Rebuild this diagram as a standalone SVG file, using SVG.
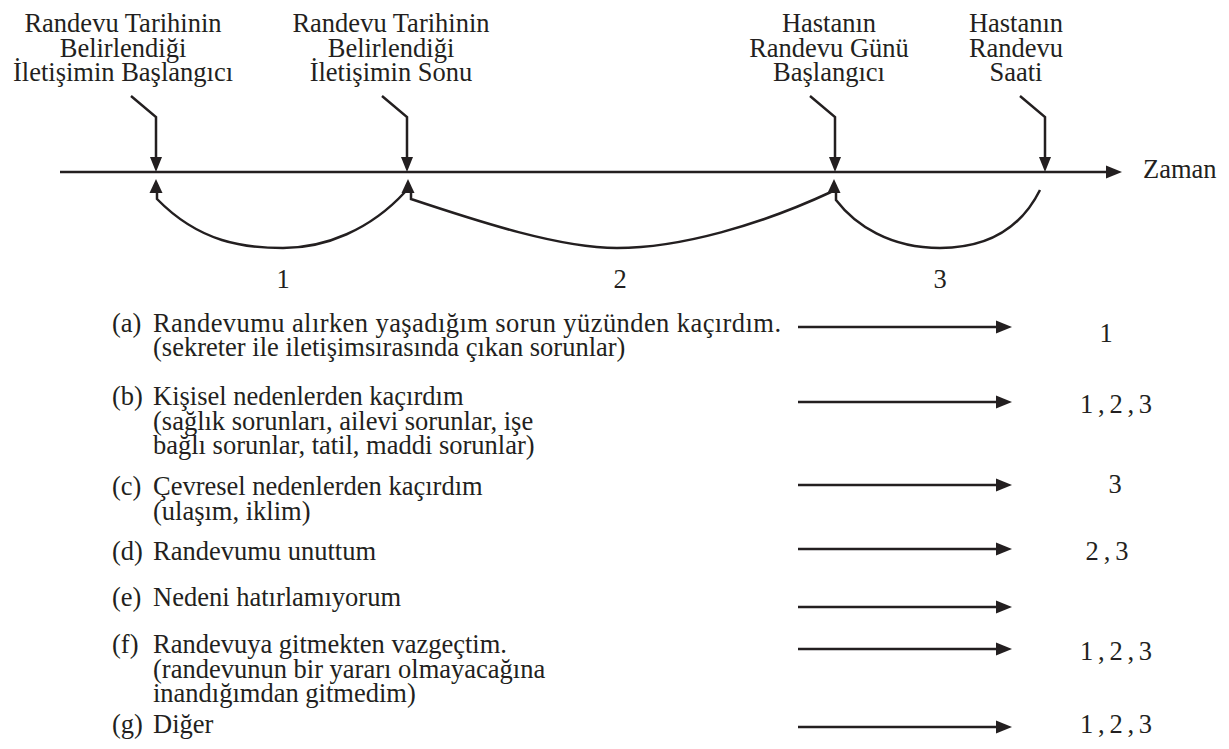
<svg xmlns="http://www.w3.org/2000/svg" width="1229" height="749" viewBox="0 0 1229 749" font-family="'Liberation Serif', Tinos, 'Times New Roman', 'DejaVu Serif', serif">
<style>
  text { font-family: 'Liberation Serif', Tinos, 'Times New Roman', 'DejaVu Serif', serif; fill: #231f20; font-size: 26.5px; }
  .lbl { text-anchor: middle; }
  .num { text-anchor: middle; }
  .ln { fill: none; stroke: #231f20; stroke-width: 2.5; }
  .hd { fill: #231f20; stroke: none; }
</style>
<defs>
  <path id="downHead" d="M-6,-15 L6,-15 L0,0 Z"/>
  <path id="upHead" d="M-6.5,14 L6.5,14 L0,0 Z"/>
  <path id="rightHead" d="M-16,-6.5 L0,0 L-16,6.5 Z"/>
</defs>

<g id="timeline">
  <path class="ln" d="M60,172 L1108,172"/>
  <use href="#rightHead" class="hd" x="1122" y="172"/>
  <text x="1143" y="178">Zaman</text>
</g>

<g id="node-start">
  <text class="lbl" x="123" y="32">Randevu Tarihinin</text>
  <text class="lbl" x="123" y="57">Belirlendiği</text>
  <text class="lbl" x="123" y="81">İletişimin Başlangıcı</text>
</g>
<g id="node-end">
  <text class="lbl" x="391" y="32">Randevu Tarihinin</text>
  <text class="lbl" x="391" y="57">Belirlendiği</text>
  <text class="lbl" x="391" y="81">İletişimin Sonu</text>
</g>
<g id="node-day">
  <text class="lbl" x="829" y="32">Hastanın</text>
  <text class="lbl" x="829" y="57">Randevu Günü</text>
  <text class="lbl" x="829" y="81">Başlangıcı</text>
</g>
<g id="node-hour">
  <text class="lbl" x="1016" y="32">Hastanın</text>
  <text class="lbl" x="1016" y="57">Randevu</text>
  <text class="lbl" x="1016" y="81">Saati</text>
</g>

<g id="connectors">
  <path class="ln" d="M131,96 L156,117 L156,159"/>
  <use href="#downHead" class="hd" x="156" y="172"/>
  <path class="ln" d="M382,96 L407,117 L407,159"/>
  <use href="#downHead" class="hd" x="407" y="172"/>
  <path class="ln" d="M810,96 L835,117 L835,159"/>
  <use href="#downHead" class="hd" x="835" y="172"/>
  <path class="ln" d="M1020,96 L1045,117 L1045,159"/>
  <use href="#downHead" class="hd" x="1045" y="172"/>

  <path class="ln" d="M157,192 L157,199 C200,243 245,248 283,248 C325,248 370,230 405,192"/>
  <use href="#upHead" class="hd" x="156" y="179"/>
  <use href="#upHead" class="hd" x="408" y="179"/>
  <path class="ln" d="M411,192 L411,199 C480,222 560,248 617,248 C680,248 760,225 831,192"/>
  <use href="#upHead" class="hd" x="834" y="179"/>
  <path class="ln" d="M1040,190 C1020,230 985,248 940,248 C890,248 855,225 836,200 L836,192"/>

  <path class="ln" d="M798,327 L998,327"/>
  <use href="#rightHead" class="hd" x="1012" y="327"/>
  <path class="ln" d="M798,402 L998,402"/>
  <use href="#rightHead" class="hd" x="1012" y="402"/>
  <path class="ln" d="M798,485 L998,485"/>
  <use href="#rightHead" class="hd" x="1012" y="485"/>
  <path class="ln" d="M798,549 L998,549"/>
  <use href="#rightHead" class="hd" x="1012" y="549"/>
  <path class="ln" d="M798,607 L998,607"/>
  <use href="#rightHead" class="hd" x="1012" y="607"/>
  <path class="ln" d="M798,649 L998,649"/>
  <use href="#rightHead" class="hd" x="1012" y="649"/>
  <path class="ln" d="M798,727 L998,727"/>
  <use href="#rightHead" class="hd" x="1012" y="727"/>
</g>

<g id="periods">
  <text class="num" x="283" y="288">1</text>
  <text class="num" x="620" y="288">2</text>
  <text class="num" x="940" y="288">3</text>
</g>

<g id="item-a">
  <text x="112" y="332">(a)</text>
  <text x="153" y="332" textLength="628" lengthAdjust="spacing">Randevumu alırken yaşadığım sorun yüzünden kaçırdım.</text>
  <text x="153" y="356">(sekreter ile iletişimsırasında çıkan sorunlar)</text>
  <text class="num" x="1106" y="342">1</text>
</g>
<g id="item-b">
  <text x="112" y="405">(b)</text>
  <text x="153" y="405">Kişisel nedenlerden kaçırdım</text>
  <text x="153" y="430">(sağlık sorunları, ailevi sorunlar, işe</text>
  <text x="153" y="454">bağlı sorunlar, tatil, maddi sorunlar)</text>
  <text class="num" x="1116" y="413" textLength="72" lengthAdjust="spacing">1 , 2 , 3</text>
</g>
<g id="item-c">
  <text x="112" y="495">(c)</text>
  <text x="153" y="495">Çevresel nedenlerden kaçırdım</text>
  <text x="153" y="520">(ulaşım, iklim)</text>
  <text class="num" x="1115" y="493">3</text>
</g>
<g id="item-d">
  <text x="112" y="560">(d)</text>
  <text x="153" y="560">Randevumu unuttum</text>
  <text class="num" x="1107" y="560" textLength="43" lengthAdjust="spacing">2 , 3</text>
</g>
<g id="item-e">
  <text x="112" y="606">(e)</text>
  <text x="153" y="606">Nedeni hatırlamıyorum</text>
</g>
<g id="item-f">
  <text x="112" y="653">(f)</text>
  <text x="153" y="653">Randevuya gitmekten vazgeçtim.</text>
  <text x="153" y="678">(randevunun bir yararı olmayacağına</text>
  <text x="153" y="702">inandığımdan gitmedim)</text>
  <text class="num" x="1116" y="660" textLength="72" lengthAdjust="spacing">1 , 2 , 3</text>
</g>
<g id="item-g">
  <text x="112" y="733">(g)</text>
  <text x="153" y="733">Diğer</text>
  <text class="num" x="1116" y="733" textLength="72" lengthAdjust="spacing">1 , 2 , 3</text>
</g>
</svg>
